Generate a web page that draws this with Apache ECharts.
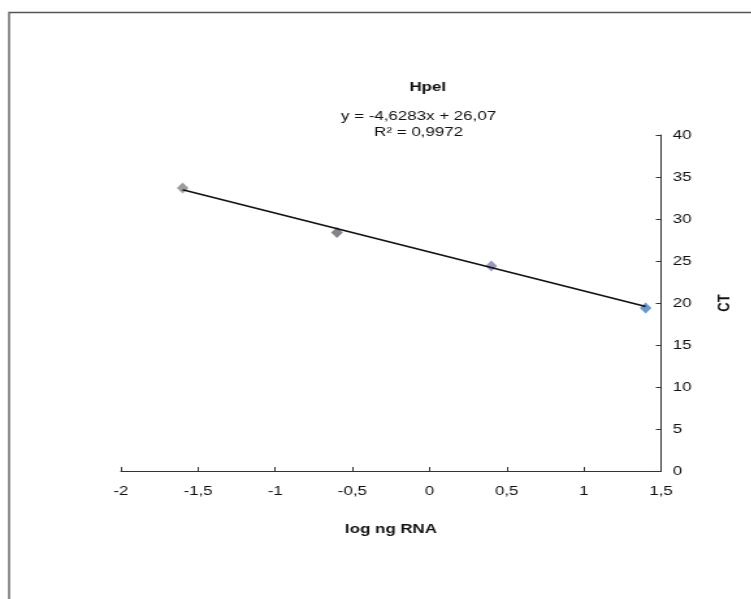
<!DOCTYPE html>
<html>
<head>
<meta charset="utf-8">
<script src="https://cdn.jsdelivr.net/npm/echarts@6/dist/echarts.min.js"></script>
<style>
html,body{margin:0;padding:0;background:#fff;overflow:hidden;}
#wrap{width:751px;height:599px;overflow:hidden;position:relative;}
#c{width:578px;height:599px;transform:scaleX(1.3);transform-origin:0 0;}
</style>
</head>
<body>
<div id="wrap"><div id="c"></div></div>
<script>
var logRNA = [-1.6, -0.6, 0.4, 1.4];
var ctValues = [33.7, 28.4, 24.4, 19.4];
var pointColors = ['#8c8c8c', '#6e6e78', '#8585b5', '#4f8ac6'];
var trendX = [-1.6, 1.4];
var trendY = [33.48, 19.59];
var equationText = 'y = -4,6283x + 26,07';
var r2Text = 'R² = 0,9972';
var chartTitle = 'HpeI';
var xName = 'log ng RNA';
var yName = 'CT';

var fmt = function (v) { return String(v).replace('.', ','); };
var font = '"Liberation Sans", Arial, sans-serif';

var chart = echarts.init(document.getElementById('c'));
chart.setOption({
  animation: false,
  backgroundColor: '#fff',
  grid: { left: 93, right: 69.5, top: 135, bottom: 128 },
  xAxis: {
    type: 'value', min: -2, max: 1.5, interval: 0.5,
    name: xName, nameLocation: 'middle', nameGap: 52,
    nameTextStyle: { fontFamily: font, fontSize: 13, fontWeight: 'bold', color: '#111' },
    axisLine: { onZero: false, lineStyle: { color: '#333', width: 1 } },
    axisTick: { show: true, inside: true, length: 4, lineStyle: { color: '#333' } },
    axisLabel: { formatter: fmt, fontFamily: font, fontSize: 13, color: '#111', margin: 14 },
    splitLine: { show: false }
  },
  yAxis: {
    type: 'value', min: 0, max: 40, interval: 5, position: 'right',
    name: yName, nameLocation: 'middle', nameGap: 42, nameRotate: 90,
    nameTextStyle: { fontFamily: font, fontSize: 13, fontWeight: 'bold', color: '#111' },
    axisLine: { show: true, onZero: false, lineStyle: { color: '#333', width: 1 } },
    axisTick: { show: true, inside: true, length: 4, lineStyle: { color: '#333' } },
    axisLabel: { formatter: fmt, fontFamily: font, fontSize: 13, color: '#111', margin: 9 },
    splitLine: { show: false }
  },
  graphic: [
    { type: 'rect', shape: { x: 7, y: 12.5, width: 700, height: 700 }, style: { fill: 'none', stroke: '#555', lineWidth: 1.3 }, silent: true },
    { type: 'text', style: { text: chartTitle, x: 329, y: 87, textAlign: 'center', textVerticalAlign: 'middle', font: 'bold 13px ' + font, fill: '#111' } },
    { type: 'text', style: { text: equationText, x: 322, y: 116, textAlign: 'center', textVerticalAlign: 'middle', font: '13px ' + font, fill: '#111' } },
    { type: 'text', style: { text: r2Text, x: 322, y: 132, textAlign: 'center', textVerticalAlign: 'middle', font: '13px ' + font, fill: '#111' } }
  ],
  series: [
    {
      type: 'line',
      data: trendX.map(function (x, i) { return [x, trendY[i]]; }),
      showSymbol: false, symbol: 'none',
      lineStyle: { color: '#111', width: 1.6 },
      z: 3
    },
    {
      type: 'scatter',
      symbol: 'diamond', symbolSize: [9, 11],
      data: logRNA.map(function (x, i) {
        return { value: [x, ctValues[i]], itemStyle: { color: pointColors[i], opacity: 0.85 } };
      }),
      z: 2
    }
  ]
});
</script>
</body>
</html>
